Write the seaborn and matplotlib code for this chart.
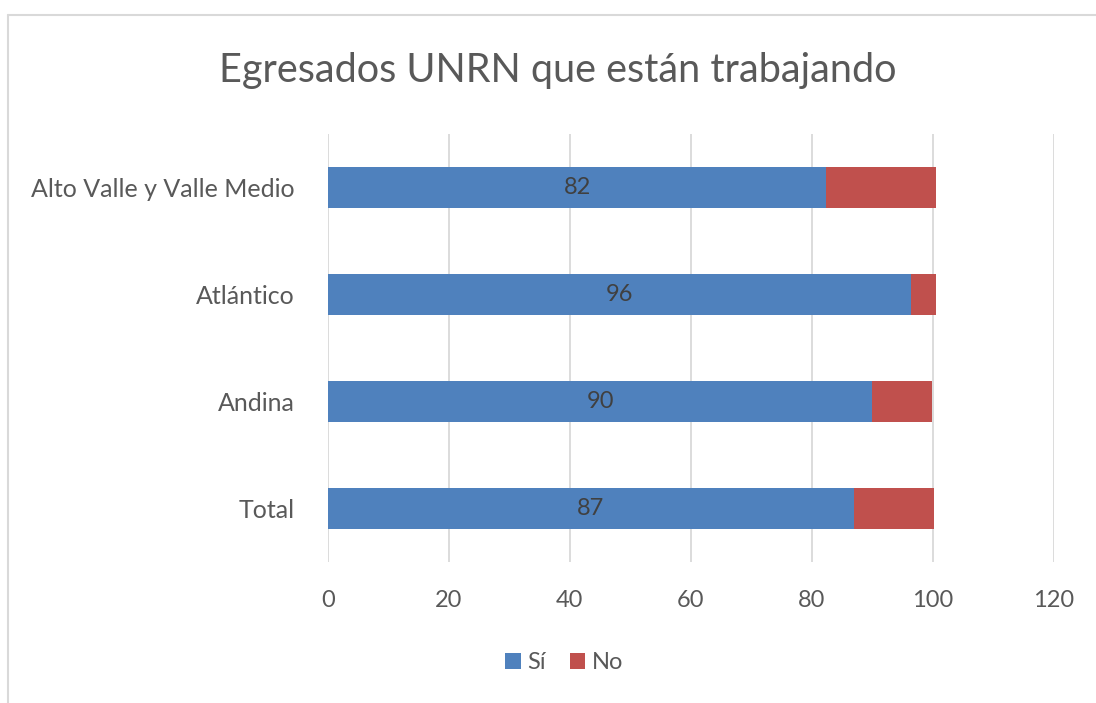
import matplotlib
matplotlib.use("Agg")
import matplotlib.pyplot as plt
import seaborn as sns
import pandas as pd
from matplotlib.patches import Patch
from matplotlib.lines import Line2D

categories = ["Alto Valle y Valle Medio", "Atlántico", "Andina", "Total"]
si_values = [82.4, 96.4, 90.0, 86.9]
no_values = [18.1, 4.1, 9.8, 13.3]
series_names = ["Sí", "No"]
title = "Egresados UNRN que están trabajando"
x_ticks = [0, 20, 40, 60, 80, 100, 120]

BLUE = "#4F81BD"
RED = "#C0504D"
GREY = "#595959"
FONT = ["Lato", "DejaVu Sans"]

sns.set_theme(style="white")
plt.rcParams["font.family"] = FONT

df = pd.DataFrame({"cat": categories, "si": si_values, "no": no_values})
df["total"] = df["si"] + df["no"]

fig = plt.figure(figsize=(10.96, 7.03), dpi=100)
ax = fig.add_axes([0.299, 0.200, 0.6627, 0.610])

for x in x_ticks:
    ax.axvline(x, color="#D9D9D9", lw=1.3, zorder=0)

sns.barplot(data=df, x="total", y="cat", order=categories, color=RED,
            width=0.385, saturation=1, linewidth=0, ax=ax, zorder=2)
sns.barplot(data=df, x="si", y="cat", order=categories, color=BLUE,
            width=0.385, saturation=1, linewidth=0, ax=ax, zorder=3)

blue_container = ax.containers[1]
ax.bar_label(blue_container, labels=[f"{v:.0f}" for v in si_values],
             label_type="center", color="#404040", fontsize=17, zorder=4)

ax.set_xlim(0, 120)
ax.set_xticks(x_ticks)
ax.set_xticklabels([str(t) for t in x_ticks])
ax.set_ylim(3.5, -0.5)
ax.set_xlabel("")
ax.set_ylabel("")
for s in ax.spines.values():
    s.set_visible(False)
ax.tick_params(axis="x", length=0, pad=20, labelsize=17, labelcolor=GREY)
ax.tick_params(axis="y", length=0, pad=24, labelsize=18, labelcolor=GREY)

fig.text(0.509, 0.900, title, ha="center", va="center", fontsize=28.5, color=GREY)

handles = [Patch(facecolor=BLUE, edgecolor="none"), Patch(facecolor=RED, edgecolor="none")]
leg = fig.legend(handles, series_names, loc="center", bbox_to_anchor=(0.515, 0.057),
                 ncol=2, frameon=False, fontsize=17, handlelength=0.65, handleheight=0.65,
                 handletextpad=0.3, columnspacing=1.0)
for t in leg.get_texts():
    t.set_color(GREY)

# outer chart border (top and left edges visible)
fig.add_artist(Line2D([0.0075, 1.0], [0.979, 0.979], transform=fig.transFigure,
                      color="#D9D9D9", lw=1.5))
fig.add_artist(Line2D([0.0075, 0.0075], [0.0, 0.979], transform=fig.transFigure,
                      color="#D9D9D9", lw=1.5))

fig.savefig("out.png", dpi=100)
